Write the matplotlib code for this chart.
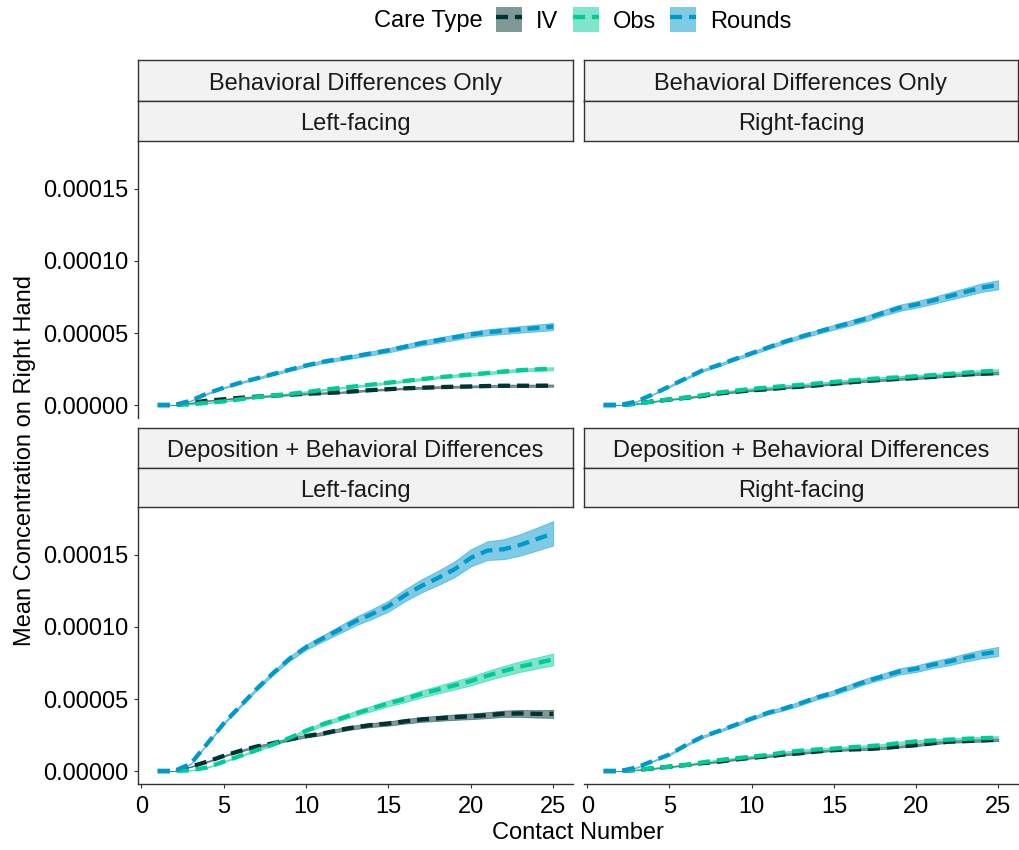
import matplotlib
matplotlib.use("Agg")
import matplotlib.pyplot as plt
from matplotlib.patches import Patch
from matplotlib.lines import Line2D
from matplotlib.ticker import FormatStrFormatter

plt.rcParams['font.family'] = ['Liberation Sans', 'DejaVu Sans']

# ---- data (concentrations in units of 1e-6) ----
contact = list(range(1, 26))
care_types = ["IV", "Obs", "Rounds"]
scenarios = ["Behavioral Differences Only", "Deposition + Behavioral Differences"]
orientations = ["Left-facing", "Right-facing"]

line_colors = {"IV": "#003333", "Obs": "#00CC99", "Rounds": "#0099CC"}

beh_left_iv = [0, 0, 1.5, 3.0, 4.0, 5.0, 5.8, 6.5, 7.2, 7.8, 8.3, 8.8, 9.6, 10.4, 11.0,
               11.6, 12.0, 12.4, 12.7, 12.9, 13.2, 13.4, 13.4, 13.4, 13.5]
beh_left_obs = [0, 0, 0.5, 1.5, 2.5, 4.0, 5.5, 6.7, 7.7, 9.0, 10.5, 11.8, 13.0, 14.2, 15.5,
                16.7, 18.0, 19.2, 20.3, 21.2, 22.2, 23.3, 24.2, 24.8, 25.2]
beh_left_rounds = [0, 0, 3.0, 8.0, 12.0, 15.5, 18.5, 21.5, 24.5, 27.5, 30.0, 32.0, 34.0, 36.0, 38.0,
                   40.5, 43.0, 45.0, 47.0, 49.0, 50.5, 51.5, 52.5, 53.5, 54.5]

beh_right_iv = [0, 0, 1.0, 2.5, 3.8, 5.0, 6.3, 8.0, 9.2, 10.2, 11.0, 12.0, 12.8, 13.7, 14.8,
                15.8, 16.8, 17.5, 18.2, 18.8, 19.6, 20.4, 21.2, 21.8, 22.2]
beh_right_obs = [0, 0, 0.8, 2.5, 4.0, 5.2, 6.8, 8.7, 10.0, 11.2, 12.2, 13.2, 14.0, 15.0, 16.0,
                 17.0, 18.0, 18.7, 19.3, 20.0, 20.8, 21.6, 22.5, 23.3, 23.8]
beh_right_rounds = [0, 0, 2.5, 7.5, 13.0, 18.5, 24.0, 27.8, 32.0, 36.0, 40.0, 44.0, 47.5, 50.8, 54.0,
                    57.0, 60.2, 64.0, 67.5, 69.8, 72.5, 75.5, 78.5, 81.5, 83.5]

dep_left_iv = [0, 0, 3.0, 6.5, 10.5, 14.0, 17.0, 19.3, 22.0, 24.3, 26.0, 28.5, 30.5, 32.0, 33.0,
               34.5, 35.8, 36.6, 37.4, 38.0, 38.8, 39.8, 40.0, 39.7, 39.7]
dep_left_obs = [0, 0, 0.5, 2.5, 6.5, 10.5, 14.5, 18.5, 23.0, 28.0, 32.5, 36.2, 40.0, 43.5, 47.0,
                50.0, 53.5, 56.5, 59.5, 62.5, 66.2, 69.5, 72.5, 75.0, 77.5]
dep_left_rounds = [0, 0, 5.0, 19.0, 33.0, 45.0, 57.0, 68.0, 78.0, 86.0, 92.0, 98.0, 104.0, 109.0, 114.5,
                   122.0, 128.5, 134.0, 140.0, 148.0, 153.0, 154.0, 157.0, 161.0, 165.0]

dep_right_iv = [0, 0, 0.8, 1.8, 3.0, 4.2, 5.5, 6.5, 8.0, 9.2, 10.2, 11.5, 12.4, 13.6, 14.5,
                15.0, 15.3, 16.0, 17.0, 18.0, 19.3, 20.4, 20.8, 21.3, 21.7]
dep_right_obs = [0, 0, 0.8, 2.0, 3.0, 4.2, 6.0, 7.6, 8.8, 10.0, 11.2, 13.0, 14.2, 15.0, 15.6,
                 16.5, 17.2, 18.0, 19.5, 20.6, 21.2, 21.8, 22.4, 22.8, 23.2]
dep_right_rounds = [0, 0, 2.5, 7.0, 11.5, 18.0, 23.8, 27.8, 32.0, 36.5, 40.5, 43.5, 47.2, 51.2, 54.5,
                    58.5, 62.5, 65.8, 69.2, 71.0, 73.8, 76.0, 78.8, 81.2, 83.0]

# ribbon half-widths (same units)
beh_left_iv_ci = [0, 0, 0.2, 0.3, 0.3, 0.4, 0.4, 0.4, 0.5, 0.5, 0.5, 0.5, 0.6, 0.6, 0.6,
                  0.6, 0.7, 0.7, 0.7, 0.7, 0.7, 0.8, 0.8, 0.8, 0.8]
beh_left_obs_ci = [0, 0, 0.2, 0.3, 0.3, 0.4, 0.4, 0.5, 0.5, 0.6, 0.6, 0.6, 0.7, 0.7, 0.7,
                   0.8, 0.8, 0.8, 0.9, 0.9, 0.9, 1.0, 1.0, 1.0, 1.1]
beh_left_rounds_ci = [0, 0, 0.3, 0.4, 0.5, 0.6, 0.7, 0.8, 0.9, 1.0, 1.1, 1.2, 1.3, 1.4, 1.5,
                      1.6, 1.7, 1.8, 1.9, 2.0, 2.1, 2.2, 2.3, 2.4, 2.5]
beh_right_iv_ci = [0, 0, 0.2, 0.3, 0.3, 0.4, 0.4, 0.4, 0.5, 0.5, 0.5, 0.6, 0.6, 0.6, 0.6,
                   0.7, 0.7, 0.7, 0.7, 0.8, 0.8, 0.8, 0.8, 0.9, 0.9]
beh_right_obs_ci = [0, 0, 0.2, 0.3, 0.3, 0.4, 0.4, 0.5, 0.5, 0.6, 0.6, 0.6, 0.7, 0.7, 0.7,
                    0.8, 0.8, 0.8, 0.9, 0.9, 0.9, 1.0, 1.0, 1.0, 1.1]
beh_right_rounds_ci = [0, 0, 0.3, 0.4, 0.6, 0.7, 0.8, 0.9, 1.0, 1.1, 1.2, 1.3, 1.4, 1.5, 1.7,
                       1.8, 1.9, 2.0, 2.2, 2.3, 2.4, 2.6, 2.8, 3.0, 3.2]
dep_left_iv_ci = [0, 0, 0.3, 0.4, 0.5, 0.6, 0.7, 0.8, 0.9, 1.0, 1.1, 1.2, 1.3, 1.4, 1.5,
                  1.6, 1.7, 1.8, 1.9, 2.0, 2.1, 2.2, 2.4, 2.6, 2.8]
dep_left_obs_ci = [0, 0, 0.2, 0.3, 0.4, 0.6, 0.7, 0.8, 1.0, 1.1, 1.3, 1.5, 1.7, 1.9, 2.1,
                   2.3, 2.5, 2.7, 2.9, 3.1, 3.3, 3.5, 3.7, 3.9, 4.1]
dep_left_rounds_ci = [0, 0, 0.3, 0.5, 0.7, 0.9, 1.1, 1.3, 1.6, 1.9, 2.2, 2.6, 3.0, 3.4, 3.8,
                      4.2, 4.6, 5.0, 5.5, 6.0, 6.5, 7.0, 7.5, 8.0, 8.5]
dep_right_iv_ci = [0, 0, 0.2, 0.3, 0.3, 0.4, 0.4, 0.4, 0.5, 0.5, 0.5, 0.6, 0.6, 0.6, 0.6,
                   0.7, 0.7, 0.7, 0.7, 0.8, 0.8, 0.8, 0.8, 0.9, 0.9]
dep_right_obs_ci = [0, 0, 0.2, 0.3, 0.3, 0.4, 0.4, 0.5, 0.5, 0.6, 0.6, 0.6, 0.7, 0.7, 0.7,
                    0.8, 0.8, 0.8, 0.9, 0.9, 0.9, 1.0, 1.0, 1.0, 1.1]
dep_right_rounds_ci = [0, 0, 0.3, 0.4, 0.6, 0.7, 0.8, 0.9, 1.0, 1.1, 1.2, 1.3, 1.4, 1.5, 1.7,
                       1.8, 1.9, 2.0, 2.2, 2.3, 2.4, 2.6, 2.8, 3.0, 3.2]

UNIT = 1e-6

panels = {
    (0, 0): {"IV": (beh_left_iv, beh_left_iv_ci), "Obs": (beh_left_obs, beh_left_obs_ci),
             "Rounds": (beh_left_rounds, beh_left_rounds_ci)},
    (0, 1): {"IV": (beh_right_iv, beh_right_iv_ci), "Obs": (beh_right_obs, beh_right_obs_ci),
             "Rounds": (beh_right_rounds, beh_right_rounds_ci)},
    (1, 0): {"IV": (dep_left_iv, dep_left_iv_ci), "Obs": (dep_left_obs, dep_left_obs_ci),
             "Rounds": (dep_left_rounds, dep_left_rounds_ci)},
    (1, 1): {"IV": (dep_right_iv, dep_right_iv_ci), "Obs": (dep_right_obs, dep_right_obs_ci),
             "Rounds": (dep_right_rounds, dep_right_rounds_ci)},
}

# ---- layout (pixel boxes) ----
W, H = 1019, 850
fig = plt.figure(figsize=(W / 100, H / 100), dpi=100)
fig.patch.set_facecolor("white")


def box(x0, y0, x1, y1):
    return [x0 / W, 1 - y1 / H, (x1 - x0) / W, (y1 - y0) / H]


cols = [(138, 573), (584, 1018)]
rows = [((60, 101), (101, 141), (141, 418)),
        ((428, 468), (468, 507), (507, 784))]

FS = 17
AXIS_GREY = "#333333"
LW = 3.1
DASH = (2.8, 1.6)

for r, (s1, s2, p) in enumerate(rows):
    for c, (x0, x1) in enumerate(cols):
        ax = fig.add_axes(box(x0, p[0], x1, p[1]))
        ax.patch.set_visible(False)
        data = panels[(r, c)]
        for ct in care_types:
            mean, ci = data[ct]
            lo = [(m - e) * UNIT for m, e in zip(mean, ci)]
            hi = [(m + e) * UNIT for m, e in zip(mean, ci)]
            ax.fill_between(contact, lo, hi, facecolor=line_colors[ct], alpha=0.5,
                            edgecolor=line_colors[ct], linewidth=0.6)
        for ct in care_types:
            mean, _ = data[ct]
            ax.plot(contact, [m * UNIT for m in mean], color=line_colors[ct], lw=LW,
                    dashes=DASH, dash_capstyle="butt")

        ax.set_xlim(-0.2, 26.2)
        ax.set_ylim(-9.0e-6, 1.833e-4)
        ax.set_xticks([0, 5, 10, 15, 20, 25])
        ax.set_yticks([0, 5e-5, 1e-4, 1.5e-4])
        ax.yaxis.set_major_formatter(FormatStrFormatter("%.5f"))
        ax.spines["top"].set_visible(False)
        ax.spines["right"].set_visible(False)
        ax.spines["left"].set_visible(c == 0)
        ax.spines["bottom"].set_visible(r == 1)
        for sp in ("left", "bottom"):
            ax.spines[sp].set_color(AXIS_GREY)
            ax.spines[sp].set_linewidth(1.0)
        ax.tick_params(axis="both", direction="out", length=3.2, width=0.8,
                       color=AXIS_GREY, labelsize=FS, labelcolor="black")
        ax.tick_params(axis="y", pad=3.5)
        ax.tick_params(axis="x", pad=5.5)
        if c != 0:
            ax.tick_params(axis="y", left=False, labelleft=False)
        if r != 1:
            ax.tick_params(axis="x", bottom=False, labelbottom=False)

        # facet strips, drawn above the panel so their borders stay visible
        for (sy0, sy1), label in ((s1, scenarios[r]), (s2, orientations[c])):
            sax = fig.add_axes(box(x0, sy0, x1, sy1))
            sax.set_facecolor("#F2F2F2")
            sax.set_xticks([])
            sax.set_yticks([])
            for sp in sax.spines.values():
                sp.set_color(AXIS_GREY)
                sp.set_linewidth(1.0)
            sax.text(0.5, 0.42, label, ha="center", va="center", fontsize=FS,
                     color="#1a1a1a", transform=sax.transAxes)

fig.text(25 / W, 1 - 461 / H, "Mean Concentration on Right Hand", rotation=90,
         ha="center", va="center", fontsize=FS, color="black")
fig.text(578 / W, 1 - 833 / H, "Contact Number", ha="center", va="center",
         fontsize=FS, color="black")

# ---- legend ----
fig.text(483 / W, 1 - 21 / H, "Care Type", ha="right", va="center", fontsize=FS,
         color="black")
handles = []
for ct in care_types:
    patch = Patch(facecolor=line_colors[ct], alpha=0.5, edgecolor="none")
    line = Line2D([], [], color=line_colors[ct], lw=LW, dashes=DASH,
                  dash_capstyle="butt")
    handles.append((patch, line))
fig.legend(handles, care_types, loc="center left", bbox_to_anchor=(496 / W, 1 - 20 / H),
           ncol=3, frameon=False, fontsize=FS, handlelength=1.1, handleheight=1.25,
           handletextpad=0.6, columnspacing=0.6, borderpad=0, borderaxespad=0)

fig.savefig("out.png", dpi=100)
